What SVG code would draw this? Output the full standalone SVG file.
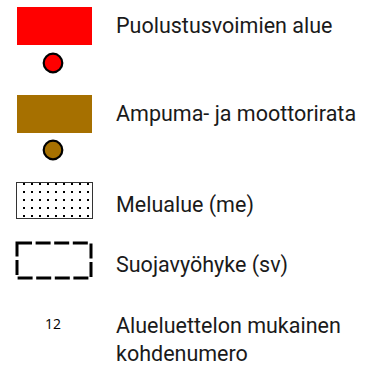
<svg xmlns="http://www.w3.org/2000/svg" width="375" height="365" viewBox="0 0 375 365">
<style>
.lbl{font-family:Roboto,"DejaVu Sans",sans-serif;font-size:21.5px;fill:#1a1a1a}
.num{font-family:"Open Sans","Liberation Sans",sans-serif;font-size:14px;fill:#000}
.dot{stroke:#000;stroke-width:2.2}
</style>
<defs>
<pattern id="dots" x="23" y="183" width="8" height="8" patternUnits="userSpaceOnUse">
<rect x="0" y="0" width="2.4" height="2.4" fill="#000" shape-rendering="crispEdges"/>
</pattern>
</defs>
<rect width="375" height="365" fill="#fff"/>
<g id="puolustusvoimat">
<rect x="17" y="7" width="75" height="38" fill="#ff0000"/>
<circle class="dot" cx="53" cy="63" r="9.3" fill="#ff0000"/>
<text class="lbl" x="116" y="33">Puolustusvoimien alue</text>
</g>
<g id="ampumarata">
<rect x="17" y="95" width="75" height="38" fill="#a67000"/>
<circle class="dot" cx="53" cy="150" r="9.3" fill="#a67000"/>
<text class="lbl" x="116" y="121">Ampuma- ja moottorirata</text>
</g>
<g id="melualue">
<rect x="16.5" y="182.5" width="76" height="36" fill="#fff" stroke="#333" stroke-width="1"/>
<rect x="17" y="183" width="75" height="35" fill="url(#dots)"/>
<text class="lbl" x="116" y="212">Melualue (me)</text>
</g>
<g id="suojavyohyke">
<rect x="17" y="243" width="74" height="35" fill="none" stroke="#000" stroke-width="3" stroke-dasharray="15 3.6"/>
<text class="lbl" x="116" y="272">Suojavyöhyke (sv)</text>
</g>
<g id="kohdenumero">
<text class="num" x="53" y="329" text-anchor="middle">12</text>
<text class="lbl" x="116" y="333">Alueluettelon mukainen</text>
<text class="lbl" x="116" y="361">kohdenumero</text>
</g>
</svg>
